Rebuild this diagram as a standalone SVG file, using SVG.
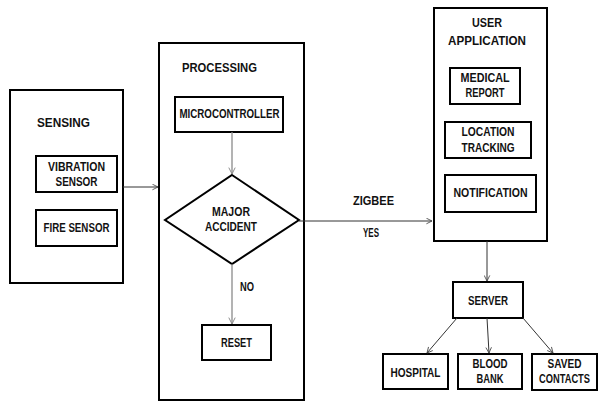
<svg xmlns="http://www.w3.org/2000/svg" width="600" height="405" viewBox="0 0 600 405">
<defs>
<style>
.box{fill:#fff;stroke:#000;stroke-width:2}
.t{font-family:"Liberation Sans",Arial,sans-serif;font-weight:bold;font-size:12.5px;fill:#111;text-anchor:middle}
.c{fill:none;stroke:#333;stroke-width:1}
.g{fill:none;stroke:#8a8a8a;stroke-width:1.3}
</style>
<marker id="ah" viewBox="0 0 10 10" refX="9" refY="5" markerWidth="7" markerHeight="7" orient="auto" markerUnits="userSpaceOnUse">
<path d="M1,1 L9,5 L1,9" fill="none" stroke="#444" stroke-width="1.2"/>
</marker>
<marker id="ahg" viewBox="0 0 10 10" refX="9" refY="5" markerWidth="8" markerHeight="8" orient="auto" markerUnits="userSpaceOnUse">
<path d="M1,1 L9,5 L1,9" fill="none" stroke="#8a8a8a" stroke-width="1.2"/>
</marker>
</defs>
<rect width="600" height="405" fill="#fff"/>

<g id="sensing">
<rect class="box" x="10" y="90" width="113" height="193"/>
<text class="t" x="63.5" y="127" font-size="13" textLength="53" lengthAdjust="spacingAndGlyphs">SENSING</text>
</g>
<g id="vibration-sensor">
<rect class="box" x="36" y="156" width="81" height="36"/>
<text class="t" x="76.5" y="171" textLength="57" lengthAdjust="spacingAndGlyphs">VIBRATION</text>
<text class="t" x="76.5" y="186" textLength="42" lengthAdjust="spacingAndGlyphs">SENSOR</text>
</g>
<g id="fire-sensor">
<rect class="box" x="36" y="210" width="81" height="36"/>
<text class="t" x="76.5" y="232" textLength="66" lengthAdjust="spacingAndGlyphs">FIRE SENSOR</text>
</g>

<g id="processing">
<rect class="box" x="159" y="43" width="145" height="357"/>
<text class="t" x="219.5" y="72" font-size="13" textLength="75" lengthAdjust="spacingAndGlyphs">PROCESSING</text>
</g>
<g id="microcontroller">
<rect class="box" x="175" y="97" width="108" height="35"/>
<text class="t" x="229.5" y="118" font-size="11.5" textLength="100" lengthAdjust="spacingAndGlyphs">MICROCONTROLLER</text>
</g>
<g id="major-accident">
<polygon class="box" points="232,175 299,220 232,264 165,220"/>
<text class="t" x="231" y="216" textLength="38" lengthAdjust="spacingAndGlyphs">MAJOR</text>
<text class="t" x="231" y="231" textLength="52" lengthAdjust="spacingAndGlyphs">ACCIDENT</text>
</g>
<g id="reset">
<rect class="box" x="202" y="325" width="69" height="35"/>
<text class="t" x="236.5" y="347" textLength="31" lengthAdjust="spacingAndGlyphs">RESET</text>
</g>

<g id="user-application">
<rect class="box" x="434" y="8" width="113" height="233"/>
<text class="t" x="487" y="27" font-size="14" textLength="30" lengthAdjust="spacingAndGlyphs">USER</text>
<text class="t" x="487" y="45" font-size="14" textLength="78" lengthAdjust="spacingAndGlyphs">APPLICATION</text>
</g>
<g id="medical-report">
<rect class="box" x="450" y="68" width="70" height="36"/>
<text class="t" x="485" y="82" textLength="49" lengthAdjust="spacingAndGlyphs">MEDICAL</text>
<text class="t" x="485" y="97" textLength="39" lengthAdjust="spacingAndGlyphs">REPORT</text>
</g>
<g id="location-tracking">
<rect class="box" x="445" y="122" width="86" height="36"/>
<text class="t" x="488" y="136" textLength="53" lengthAdjust="spacingAndGlyphs">LOCATION</text>
<text class="t" x="488" y="152" textLength="53" lengthAdjust="spacingAndGlyphs">TRACKING</text>
</g>
<g id="notification">
<rect class="box" x="445" y="175" width="91" height="37"/>
<text class="t" x="490.5" y="197" textLength="74" lengthAdjust="spacingAndGlyphs">NOTIFICATION</text>
</g>

<g id="server">
<rect class="box" x="453" y="282" width="70" height="36"/>
<text class="t" x="488" y="305" textLength="40" lengthAdjust="spacingAndGlyphs">SERVER</text>
</g>
<g id="hospital">
<rect class="box" x="383" y="354" width="65" height="35"/>
<text class="t" x="415.5" y="377" textLength="50" lengthAdjust="spacingAndGlyphs">HOSPITAL</text>
</g>
<g id="blood-bank">
<rect class="box" x="458" y="354" width="64" height="35"/>
<text class="t" x="490" y="368" textLength="35" lengthAdjust="spacingAndGlyphs">BLOOD</text>
<text class="t" x="490" y="383" textLength="27" lengthAdjust="spacingAndGlyphs">BANK</text>
</g>
<g id="saved-contacts">
<rect class="box" x="532" y="354" width="65" height="36"/>
<text class="t" x="564.5" y="368" textLength="34" lengthAdjust="spacingAndGlyphs">SAVED</text>
<text class="t" x="564.5" y="383" font-size="10.5" textLength="51" lengthAdjust="spacingAndGlyphs">CONTACTS</text>
</g>

<g id="connectors">
<line class="c" x1="123" y1="187" x2="158" y2="187" marker-end="url(#ah)"/>
<line class="g" x1="232" y1="132" x2="232" y2="174" marker-end="url(#ahg)"/>
<line class="g" x1="232" y1="264" x2="232" y2="324" marker-end="url(#ahg)"/>
<text class="t" x="247" y="291" textLength="14" lengthAdjust="spacingAndGlyphs">NO</text>
<line class="c" x1="299" y1="221" x2="432" y2="221" marker-end="url(#ah)"/>
<text class="t" x="373.5" y="205" font-size="14.5" textLength="41" lengthAdjust="spacingAndGlyphs">ZIGBEE</text>
<text class="t" x="371" y="237" font-size="10" textLength="16" lengthAdjust="spacingAndGlyphs">YES</text>
<line class="c" x1="487" y1="241" x2="487" y2="281" marker-end="url(#ah)"/>
<line class="c" x1="457" y1="318" x2="427" y2="353" marker-end="url(#ah)"/>
<line class="c" x1="487" y1="318" x2="489" y2="353" marker-end="url(#ah)"/>
<line class="c" x1="523" y1="318" x2="553" y2="353" marker-end="url(#ah)"/>
</g>
</svg>
